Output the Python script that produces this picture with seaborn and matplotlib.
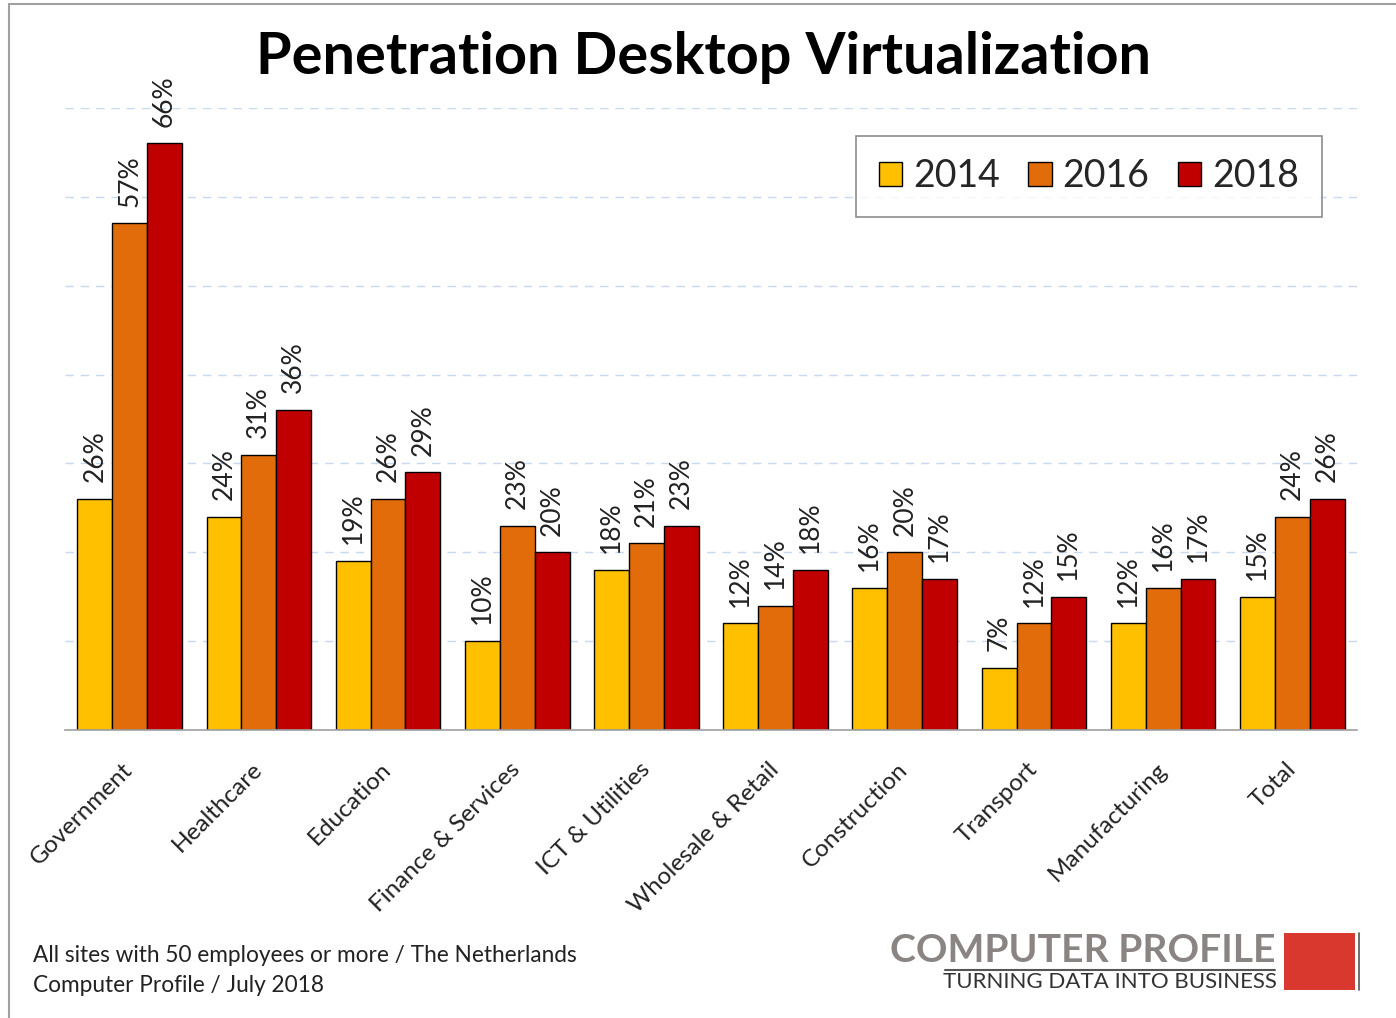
import matplotlib
matplotlib.use("Agg")
import matplotlib.pyplot as plt
import matplotlib.patches as mpatches
import seaborn as sns
import pandas as pd
import numpy as np

# Data
sectors = ["Government", "Healthcare", "Education", "Finance & Services",
           "ICT & Utilities", "Wholesale & Retail", "Construction",
           "Transport", "Manufacturing", "Total"]
years = ["2014", "2016", "2018"]
v2014 = [26, 24, 19, 10, 18, 12, 16, 7, 12, 15]
v2016 = [57, 31, 26, 23, 21, 14, 20, 12, 16, 24]
v2018 = [66, 36, 29, 20, 23, 18, 17, 15, 17, 26]
colors = ["#FFC000", "#E36C0A", "#C00000"]

df = pd.DataFrame({
    "sector": sectors * 3,
    "year": [y for y in years for _ in sectors],
    "value": v2014 + v2016 + v2018,
})

sns.set_style("white")
plt.rcParams["font.family"] = ["Lato", "DejaVu Sans"]

fig = plt.figure(figsize=(13.96, 10.18), dpi=100)
ax = fig.add_axes([0.0466, 0.2829, 0.9254, 0.6111])

sns.barplot(data=df, x="sector", y="value", hue="year", palette=colors,
            width=0.81, edgecolor="black", linewidth=1, ax=ax,
            saturation=1, errorbar=None)

# value labels
for cont, vals in zip(ax.containers, [v2014, v2016, v2018]):
    ax.bar_label(cont, labels=[f"{v}%" for v in vals], rotation=90,
                 padding=12, fontsize=19, color="#222222")

ax.set_ylim(0, 70)
ax.set_xlim(-0.5, len(sectors) - 0.5)
ax.set_yticks(np.arange(10, 71, 10))
ax.set_yticklabels([])
ax.tick_params(axis="y", length=0)
ax.yaxis.grid(True, linestyle=(0, (6, 5)), color="#C6D9F1", linewidth=1)
ax.set_axisbelow(True)
ax.set_xlabel("")
ax.set_ylabel("")

for s in ["top", "right", "left"]:
    ax.spines[s].set_visible(False)
ax.spines["bottom"].set_color("#A0A0A0")
ax.spines["bottom"].set_linewidth(1.2)

# ticks at category boundaries
ax.set_xticks(np.arange(-0.5, len(sectors), 1), minor=True)
ax.tick_params(axis="x", which="minor", length=8, color="#A0A0A0", width=1.2)
ax.tick_params(axis="x", which="major", length=0, pad=26)
ax.set_xticks(range(len(sectors)))
ax.set_xticklabels(sectors, rotation=45, ha="right", va="center",
                   rotation_mode="anchor", fontsize=17.5, color="#222222")

# legend
handles = [mpatches.Patch(facecolor=c, edgecolor="black", linewidth=1) for c in colors]
ax.legend().remove()
leg = fig.legend(handles, years, loc="center", bbox_to_anchor=(1089 / 1396, 1 - 176 / 1018),
                 ncol=3, fontsize=27, frameon=True, fancybox=False,
                 edgecolor="#707070", handlelength=0.62, handleheight=0.62,
                 handletextpad=0.3, columnspacing=0.75, borderpad=0.6)
leg.get_frame().set_linewidth(1.2)

# title
fig.text(704 / 1396, 1 - 58 / 1018, "Penetration Desktop Virtualization", ha="center",
         va="center", fontsize=41.5, fontweight="bold", color="black")

# footnote
fig.text(33 / 1396, 1 - 955 / 1018, "All sites with 50 employees or more / The Netherlands",
         ha="left", va="center", fontsize=16.3, color="#222222")
fig.text(33 / 1396, 1 - 985 / 1018, "Computer Profile / July 2018",
         ha="left", va="center", fontsize=16.3, color="#222222")

# logo
fig.text(1275 / 1396, 1 - 951 / 1018, "COMPUTER PROFILE", ha="right", va="center",
         fontsize=28.2, fontweight="bold", color="#8A8583")
fig.add_artist(plt.Line2D([945 / 1396, 1275 / 1396], [1 - 970 / 1018, 1 - 970 / 1018],
                          color="#555555", linewidth=1.5))
fig.text(1277 / 1396, 1 - 982 / 1018, "TURNING DATA INTO BUSINESS", ha="right", va="center",
         fontsize=16, color="#333333")
fig.add_artist(mpatches.Rectangle((1284 / 1396, 1 - 990 / 1018), 71 / 1396, 57 / 1018,
                                  facecolor="#D9382E", edgecolor="none"))
fig.add_artist(plt.Line2D([1359 / 1396, 1359 / 1396], [1 - 990 / 1018, 1 - 933 / 1018],
                          color="#555555", linewidth=1.2))

# outer frame
fig.add_artist(mpatches.Rectangle((9 / 1396, -0.01), 1.0, 1.0 - 4 / 1018 + 0.01,
                                  facecolor="none", edgecolor="#A0A0A0", linewidth=1.5))

fig.savefig("out.png", dpi=100)
